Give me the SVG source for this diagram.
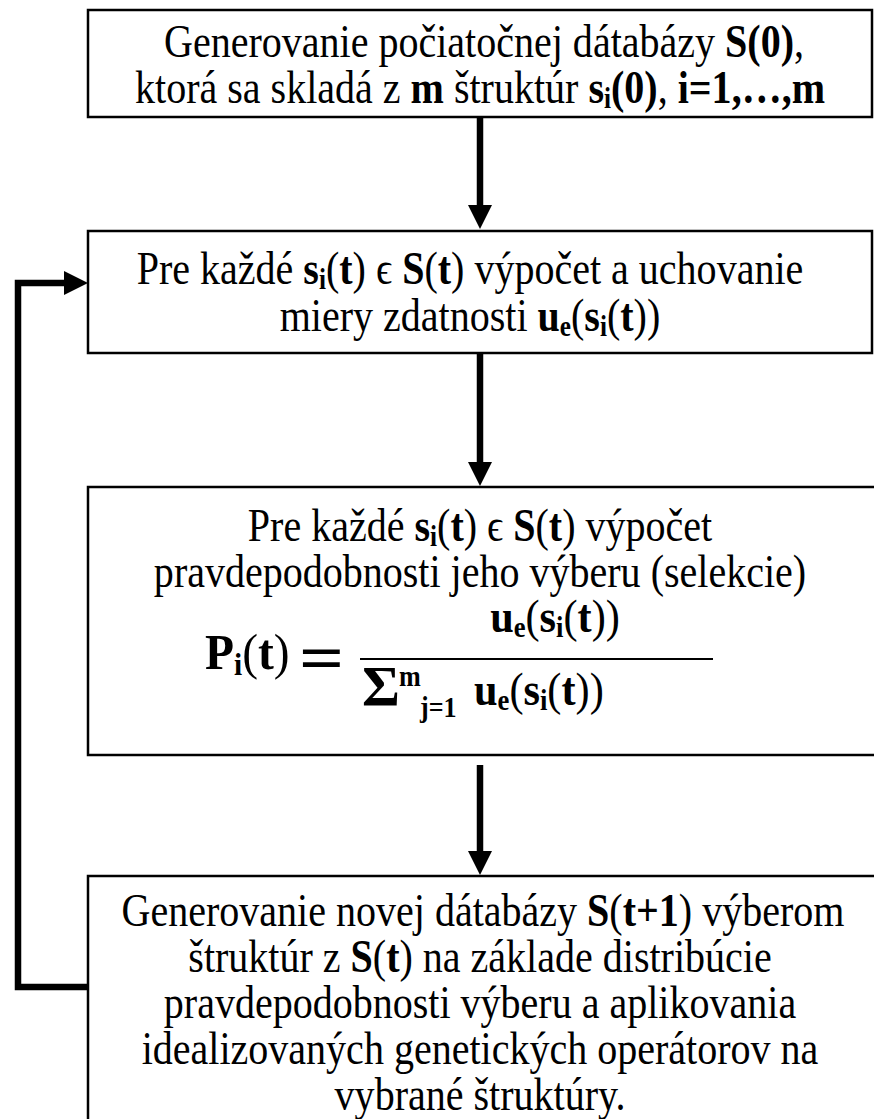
<svg xmlns="http://www.w3.org/2000/svg" width="874" height="1119" viewBox="0 0 874 1119">
<defs>
<marker id="ah" markerUnits="userSpaceOnUse" markerWidth="24" markerHeight="24" viewBox="0 0 24 24" refX="0" refY="12" orient="auto"><path d="M0,0 L24,12 L0,24 z" fill="#000"/></marker>
</defs>
<style>
.box{fill:#fff;stroke:#000;stroke-width:2.5}
.t{font-family:"Liberation Serif","Times New Roman",Times,serif;font-size:46px;fill:#000;text-anchor:middle}
.l{text-anchor:start}
.b{font-weight:bold}
.sub{font-size:29px;font-weight:bold}
.f{font-size:50px}
.fs{font-size:31px;font-weight:bold}
.conn{fill:none;stroke:#000;stroke-width:6.5;stroke-linejoin:miter}
</style>
<g id="node1">
<rect class="box" x="88" y="10" width="784" height="107"/>
<text class="t" transform="matrix(0.87 0 0 1 484 57)">Generovanie počiatočnej dátabázy <tspan class="b">S(0)</tspan>,</text>
<text class="t" transform="matrix(0.87 0 0 1 480 103)">ktorá sa skladá z <tspan class="b">m</tspan> štruktúr <tspan class="b">s</tspan><tspan class="sub" dy="5">i</tspan><tspan class="b" dy="-5">(0)</tspan>, <tspan class="b">i=1,…,m</tspan></text>
</g>
<g id="node2">
<rect class="box" x="88" y="231" width="784" height="122"/>
<text class="t" transform="matrix(0.87 0 0 1 470 284)">Pre každé <tspan class="b">s</tspan><tspan class="sub" dy="5">i</tspan><tspan dy="-5">(</tspan><tspan class="b">t</tspan>) ϵ <tspan class="b">S</tspan>(<tspan class="b">t</tspan>) výpočet a uchovanie</text>
<text class="t" transform="matrix(0.87 0 0 1 470 331)">miery zdatnosti <tspan class="b">u</tspan><tspan class="sub" dy="5">e</tspan><tspan dy="-5">(</tspan><tspan class="b">s</tspan><tspan class="sub" dy="5">i</tspan><tspan dy="-5">(</tspan><tspan class="b">t</tspan>))</text>
</g>
<g id="node3">
<rect class="box" x="88" y="487" width="790" height="268"/>
<text class="t" transform="matrix(0.87 0 0 1 480 541)">Pre každé <tspan class="b">s</tspan><tspan class="sub" dy="5">i</tspan><tspan dy="-5">(</tspan><tspan class="b">t</tspan>) ϵ <tspan class="b">S</tspan>(<tspan class="b">t</tspan>) výpočet</text>
<text class="t" transform="matrix(0.87 0 0 1 480 587)">pravdepodobnosti jeho výberu (selekcie)</text>
<text class="t l f" transform="matrix(0.95 0 0 1 205 669)"><tspan class="b">P</tspan><tspan class="fs" dy="6">i</tspan><tspan dy="-6">(</tspan><tspan class="b">t</tspan>)</text>
<text class="t l b" transform="matrix(1.2 0 0 1 299 680)" style="font-size:66px">=</text>
<line x1="360" y1="659" x2="713" y2="659" stroke="#000" stroke-width="2"/>
<text class="t" transform="matrix(0.92 0 0 1 555 632)"><tspan class="b">u</tspan><tspan class="sub" dy="5">e</tspan><tspan dy="-5">(</tspan><tspan class="b">s</tspan><tspan class="sub" dy="5">i</tspan><tspan dy="-5">(</tspan><tspan class="b">t</tspan>))</text>
<text class="t l b" transform="matrix(1 0 0 1 362 706)" style="font-size:58px">Σ</text>
<text class="t l b" transform="matrix(0.9 0 0 1 399 686)" style="font-size:29px">m</text>
<text class="t l b" transform="matrix(0.9 0 0 1 420 717)" style="font-size:29px">j=1</text>
<text class="t l" transform="matrix(0.92 0 0 1 474 705)"><tspan class="b">u</tspan><tspan class="sub" dy="5">e</tspan><tspan dy="-5">(</tspan><tspan class="b">s</tspan><tspan class="sub" dy="5">i</tspan><tspan dy="-5">(</tspan><tspan class="b">t</tspan>))</text>
</g>
<g id="node4">
<rect class="box" x="88" y="876" width="790" height="260"/>
<text class="t" transform="matrix(0.87 0 0 1 483 926)">Generovanie novej dátabázy <tspan class="b">S</tspan>(<tspan class="b">t+1</tspan>) výberom</text>
<text class="t" transform="matrix(0.87 0 0 1 480 972)">štruktúr z <tspan class="b">S</tspan>(<tspan class="b">t</tspan>) na základe distribúcie</text>
<text class="t" transform="matrix(0.87 0 0 1 480 1018)">pravdepodobnosti výberu a aplikovania</text>
<text class="t" transform="matrix(0.87 0 0 1 480 1064)">idealizovaných genetických operátorov na</text>
<text class="t" transform="matrix(0.87 0 0 1 480 1110)">vybrané štruktúry.</text>
</g>
<g id="connectors">
<path class="conn" d="M480,118 V205" marker-end="url(#ah)"/>
<path class="conn" d="M480,354 V462" marker-end="url(#ah)"/>
<path class="conn" d="M480,765 V851" marker-end="url(#ah)"/>
<path class="conn" d="M88,987 H18 V283 H64" marker-end="url(#ah)"/>
</g>
</svg>
